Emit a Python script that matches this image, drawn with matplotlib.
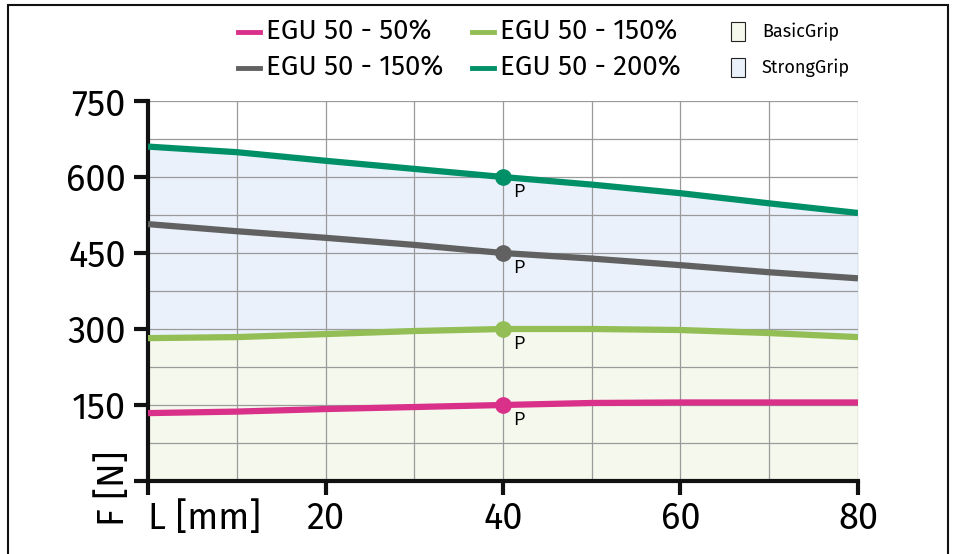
import matplotlib
matplotlib.use("Agg")
import matplotlib.pyplot as plt
from matplotlib.lines import Line2D
from matplotlib.patches import Rectangle

# data, L in mm, F in N
length = [0, 10, 20, 30, 40, 50, 60, 70, 80]
egu_50 = [134, 137, 142, 146, 150, 154, 155, 155, 155]
egu_150_gray = [507, 493, 480, 466, 450, 439, 426, 412, 400]
egu_150_green = [282, 284, 290, 296, 300, 300, 298, 292, 284]
egu_200 = [660, 649, 632, 616, 600, 585, 568, 548, 529]
point_l = 40
y_ticks = [0, 150, 300, 450, 600, 750]
x_ticks = [0, 20, 40, 60, 80]

plt.rcParams['font.family'] = ['Fira Sans', 'DejaVu Sans']

c_pink = "#d9308a"
c_gray = "#616161"
c_lgreen = "#93bd55"
c_green = "#009068"
c_basic = "#f5f8ec"
c_strong = "#eaf1fa"

fig = plt.figure(figsize=(9.54, 5.54), dpi=100)
ax = fig.add_axes([148/954, 1-481/554, 710/954, 380/554])

ax.fill_between(length, 0, egu_150_green, color=c_basic, zorder=0)
ax.fill_between(length, egu_150_green, egu_200, color=c_strong, zorder=0)

series = [(egu_50, c_pink), (egu_150_green, c_lgreen), (egu_150_gray, c_gray), (egu_200, c_green)]
for vals, col in series:
    ax.plot(length, vals, color=col, lw=4.5, solid_capstyle='butt', zorder=3)
    yp = vals[length.index(point_l)]
    ax.plot([point_l], [yp], 'o', color=col, ms=11, zorder=4)
    ax.annotate("P", (point_l, yp), xytext=(7, -11), textcoords='offset points',
                fontsize=14, va='center', ha='left', zorder=5, family='Open Sans')

ax.set_xlim(0, 80)
ax.set_ylim(0, 750)
ax.set_xticks(x_ticks)
ax.set_xticks(range(10, 80, 20), minor=True)
ax.set_yticks(y_ticks)
ax.set_yticks(range(75, 751, 150), minor=True)
ax.grid(True, which='both', color="#9a9a9a", lw=0.9)
ax.set_axisbelow(True)
ax.tick_params(which='minor', length=0)
ax.set_xticklabels(["L [mm]"] + [str(v) for v in x_ticks[1:]])
ax.set_yticklabels([""] + [str(v) for v in y_ticks[1:]])
ax.get_xticklabels()[0].set_ha('left')
ax.tick_params(axis='both', which='major', labelsize=26, width=3, length=10,
               direction='out', color='#111111')
ax.tick_params(axis='x', pad=4)
ax.tick_params(axis='y', pad=6)

for s in ['top', 'right']:
    ax.spines[s].set_visible(False)
for s in ['left', 'bottom']:
    ax.spines[s].set_linewidth(3)
    ax.spines[s].set_color('#111111')

ax.text(-0.049, -0.118, "F [N]", rotation=90, transform=ax.transAxes,
        ha='center', va='bottom', fontsize=26)

# legend, drawn by hand
def leg_line(x, y, col, label):
    fig.add_artist(Line2D([x/954, (x+22)/954], [1-y/554]*2, color=col, lw=3.5))
    fig.text((x+28)/954, 1-y/554, label, fontsize=20, va='center', ha='left')

leg_line(238, 32, c_pink, "EGU 50 - 50%")
leg_line(238, 68, c_gray, "EGU 50 - 150%")
leg_line(472, 32, c_lgreen, "EGU 50 - 150%")
leg_line(472, 68, c_green, "EGU 50 - 200%")

for y, col, label in [(32, c_basic, "BasicGrip"), (68, c_strong, "StrongGrip")]:
    fig.add_artist(Rectangle((731/954, 1-(y+9)/554), 14/954, 19/554, facecolor=col,
                             edgecolor='#222222', lw=0.8, transform=fig.transFigure))
    fig.text(762/954, 1-y/554, label, fontsize=13, va='center', ha='left')

# outer frame
fig.add_artist(Rectangle((8/954, -0.05), 940/954, 1.05 - 5/554, fill=False,
                         edgecolor='#111111', lw=1.5, transform=fig.transFigure))

fig.savefig("out.png", dpi=100)
